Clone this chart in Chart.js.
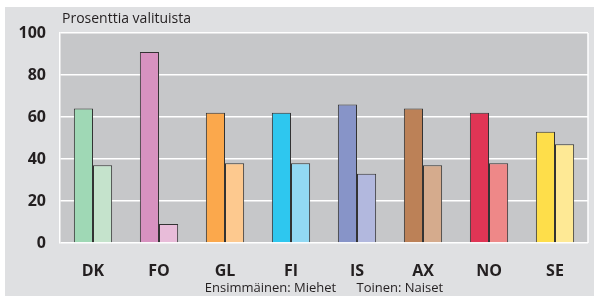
<!DOCTYPE html>
<html><head><meta charset="utf-8">
<script src="https://cdn.jsdelivr.net/npm/chart.js@4/dist/chart.umd.min.js"></script>
<style>html,body{margin:0;padding:0;background:#fff;}#wrap{width:594px;height:296px;}</style>
</head><body><div id="wrap"><canvas id="c" width="594" height="296"></canvas></div>
<script>
const categories = ['DK','FO','GL','FI','IS','AX','NO','SE'];
const miehet = [64, 91, 62, 62, 66, 64, 62, 53];
const naiset = [37, 9, 38, 38, 33, 37, 38, 47];
const yTicks = [0, 20, 40, 60, 80, 100];
const colorsMiehet = ['#9fd8b5','#d792c0','#fba84c','#2ec7ef','#8794c8','#bc8157','#e03555','#fede4a'];
const colorsNaiset = ['#c5e3cc','#e8bcd9','#fdc98f','#92d9f3','#b2b8de','#d5ab8d','#ee8888','#fee995'];
const yTitle = 'Prosenttia valituista';
const xTitle = 'Ensimmäinen: Miehet      Toinen: Naiset';

const bgPlugin = {
  id: 'bg',
  beforeDraw(chart) {
    const ctx = chart.ctx, a = chart.chartArea;
    ctx.save();
    ctx.fillStyle = '#dfe0e2';
    ctx.fillRect(5, 7, 589, 289);
    ctx.fillStyle = '#c6c7c9';
    ctx.fillRect(a.left, a.top, a.right - a.left, a.bottom - a.top);
    ctx.fillStyle = '#231f20';
    ctx.font = '14px "Open Sans"';
    ctx.textBaseline = 'middle';
    ctx.textAlign = 'left';
    ctx.fillText(yTitle, 62, 19);
    ctx.restore();
  },
  afterDatasetsDraw(chart) {
    const ctx = chart.ctx, a = chart.chartArea;
    ctx.save();
    ctx.strokeStyle = '#ffffff';
    ctx.lineWidth = 1.5;
    ctx.beginPath();
    ctx.moveTo(a.right, a.top); ctx.lineTo(a.right, a.bottom);
    ctx.stroke();
    ctx.restore();
  }
};

new Chart(document.getElementById('c'), {
  type: 'bar',
  data: {
    labels: categories,
    datasets: [
      { label: 'Miehet', data: miehet, backgroundColor: colorsMiehet, borderColor: '#333333', borderWidth: 1, borderSkipped: 'bottom' },
      { label: 'Naiset', data: naiset, backgroundColor: colorsNaiset, borderColor: '#333333', borderWidth: 1, borderSkipped: 'bottom' }
    ]
  },
  options: {
    responsive: false,
    animation: false,
    layout: { padding: { left: 5, top: 33, right: 6, bottom: 0 } },
    plugins: { legend: { display: false }, tooltip: { enabled: false } },
    datasets: { bar: { categoryPercentage: 0.58, barPercentage: 1 } },
    scales: {
      x: {
        grid: { display: false },
        border: { display: false },
        ticks: { color: '#231f20', font: { family: 'Open Sans', size: 16, weight: 'bold' }, padding: 11 },
        title: { display: true, text: xTitle, color: '#231f20', font: { family: 'Open Sans', size: 13 }, padding: { top: 0, bottom: 0 } },
        afterFit(s) { s.height = 53; }
      },
      y: {
        min: 0, max: 100,
        afterBuildTicks(s) { s.ticks = yTicks.map(v => ({ value: v })); },
        grid: { color: '#ffffff', lineWidth: 1.5, drawTicks: false },
        border: { display: true, color: '#ffffff', width: 1.5 },
        ticks: { color: '#231f20', font: { family: 'Open Sans', size: 16, weight: 'bold' }, padding: 14 },
        afterFit(s) { s.width = 55; }
      }
    }
  },
  plugins: [bgPlugin]
});
</script>
</body></html>
